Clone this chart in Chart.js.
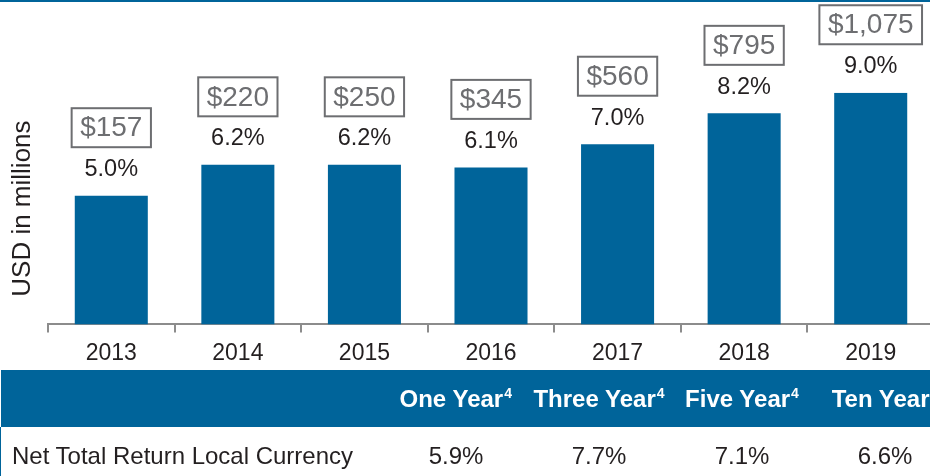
<!DOCTYPE html>
<html>
<head>
<meta charset="utf-8">
<script src="https://cdn.jsdelivr.net/npm/chart.js@4/dist/chart.umd.min.js"></script>
<style>
  body { margin: 0; width: 930px; height: 476px; overflow: hidden; position: relative; background: #fff;
         font-family: "Liberation Sans", Arial, sans-serif; }
  #topline { position: absolute; left: 0; top: 0; width: 930px; height: 2px; background: #00649a; }
  #chartBox { position: absolute; left: 0; top: 0; width: 934px; height: 378px; }
  #returns { position: absolute; left: 0; top: 370px; width: 956px; border-collapse: collapse; table-layout: fixed; }
  #returns th { background: #00649a; color: #fff; font-weight: bold; font-size: 24px; height: 57px; padding: 0; text-align: center; white-space: nowrap; }
  #returns th sup { font-size: 14px; vertical-align: 9px; line-height: 0; margin-left: 1px; }
  #returns td { font-size: 24px; color: #231f20; height: 58px; padding: 0; text-align: center; white-space: nowrap; }
  #returns td.lbl { text-align: left; padding-left: 11px; border-left: 1px solid #00649a; }
</style>
</head>
<body>
<div id="topline"></div>
<div id="chartBox"><canvas id="aumChart"></canvas></div>
<table id="returns"></table>
<script>
const years = ["2013", "2014", "2015", "2016", "2017", "2018", "2019"];
const returnPct = [5.0, 6.2, 6.2, 6.1, 7.0, 8.2, 9.0];
const aumMillions = [157, 220, 250, 345, 560, 795, 1075];

const periodLabels = ["One Year", "Three Year", "Five Year", "Ten Year"];
const periodNote = "4";
const rowLabel = "Net Total Return Local Currency";
const rowReturns = [5.9, 7.7, 7.1, 6.6];

const BLUE = "#00649a";
const GREY = "#6d6e71";

// table under the chart
const tbl = document.getElementById("returns");
let colgroup = '<colgroup><col style="width:384px">';
periodLabels.forEach(() => { colgroup += '<col style="width:143px">'; });
colgroup += "</colgroup>";
let head = "<tr><th></th>";
periodLabels.forEach(p => { head += "<th>" + p + "<sup>" + periodNote + "</sup></th>"; });
head += "</tr>";
let row = '<tr><td class="lbl">' + rowLabel + "</td>";
rowReturns.forEach(v => { row += "<td>" + v.toFixed(1) + "%</td>"; });
row += "</tr>";
tbl.innerHTML = colgroup + head + row;

// percent labels and boxed AUM labels above each bar
const barLabels = {
    id: "barLabels",
    afterDatasetsDraw(chart) {
        const ctx = chart.ctx;
        const meta = chart.getDatasetMeta(0);
        ctx.save();
        ctx.textAlign = "center";
        ctx.textBaseline = "middle";
        meta.data.forEach((bar, i) => {
            ctx.font = '23.5px "Liberation Sans", Arial, sans-serif';
            ctx.fillStyle = "#231f20";
            ctx.fillText(returnPct[i].toFixed(1) + "%", bar.x, bar.y - 26);

            const txt = "$" + aumMillions[i].toLocaleString("en-US");
            ctx.font = '28px "Liberation Sans", Arial, sans-serif';
            const w = ctx.measureText(txt).width + 17;
            const h = 39;
            const cy = bar.y - 68;
            ctx.strokeStyle = GREY;
            ctx.lineWidth = 2;
            ctx.strokeRect(bar.x - w / 2, cy - h / 2, w, h);
            ctx.fillStyle = GREY;
            ctx.fillText(txt, bar.x, cy + 1);
        });
        ctx.restore();
    }
};

new Chart(document.getElementById("aumChart"), {
    type: "bar",
    data: {
        labels: years,
        datasets: [{
            label: "Return",
            data: returnPct,
            backgroundColor: BLUE,
            borderWidth: 0,
            barPercentage: 0.577,
            categoryPercentage: 1.0
        }]
    },
    options: {
        responsive: true,
        maintainAspectRatio: false,
        animation: false,
        layout: { padding: { left: 3.4, right: 0, top: 92.75, bottom: 4 } },
        plugins: {
            legend: { display: false },
            tooltip: { enabled: false }
        },
        scales: {
            x: {
                offset: true,
                border: { display: true, color: "#8c8c8c", width: 2 },
                grid: { display: true, offset: true, drawOnChartArea: false, drawTicks: true, tickLength: 8, color: "#8c8c8c", lineWidth: 2 },
                ticks: { color: "#231f20", font: { size: 23, family: '"Liberation Sans", Arial, sans-serif' }, padding: 7, maxRotation: 0 }
            },
            y: {
                min: 0,
                max: 9,
                border: { display: false },
                grid: { display: false, drawTicks: false },
                ticks: { display: false },
                title: {
                    display: true,
                    text: "USD in millions",
                    color: "#231f20",
                    font: { size: 26, family: '"Liberation Sans", Arial, sans-serif' },
                    padding: { top: 4, bottom: 9.4 }
                }
            }
        }
    },
    plugins: [barLabels]
});
</script>
</body>
</html>
